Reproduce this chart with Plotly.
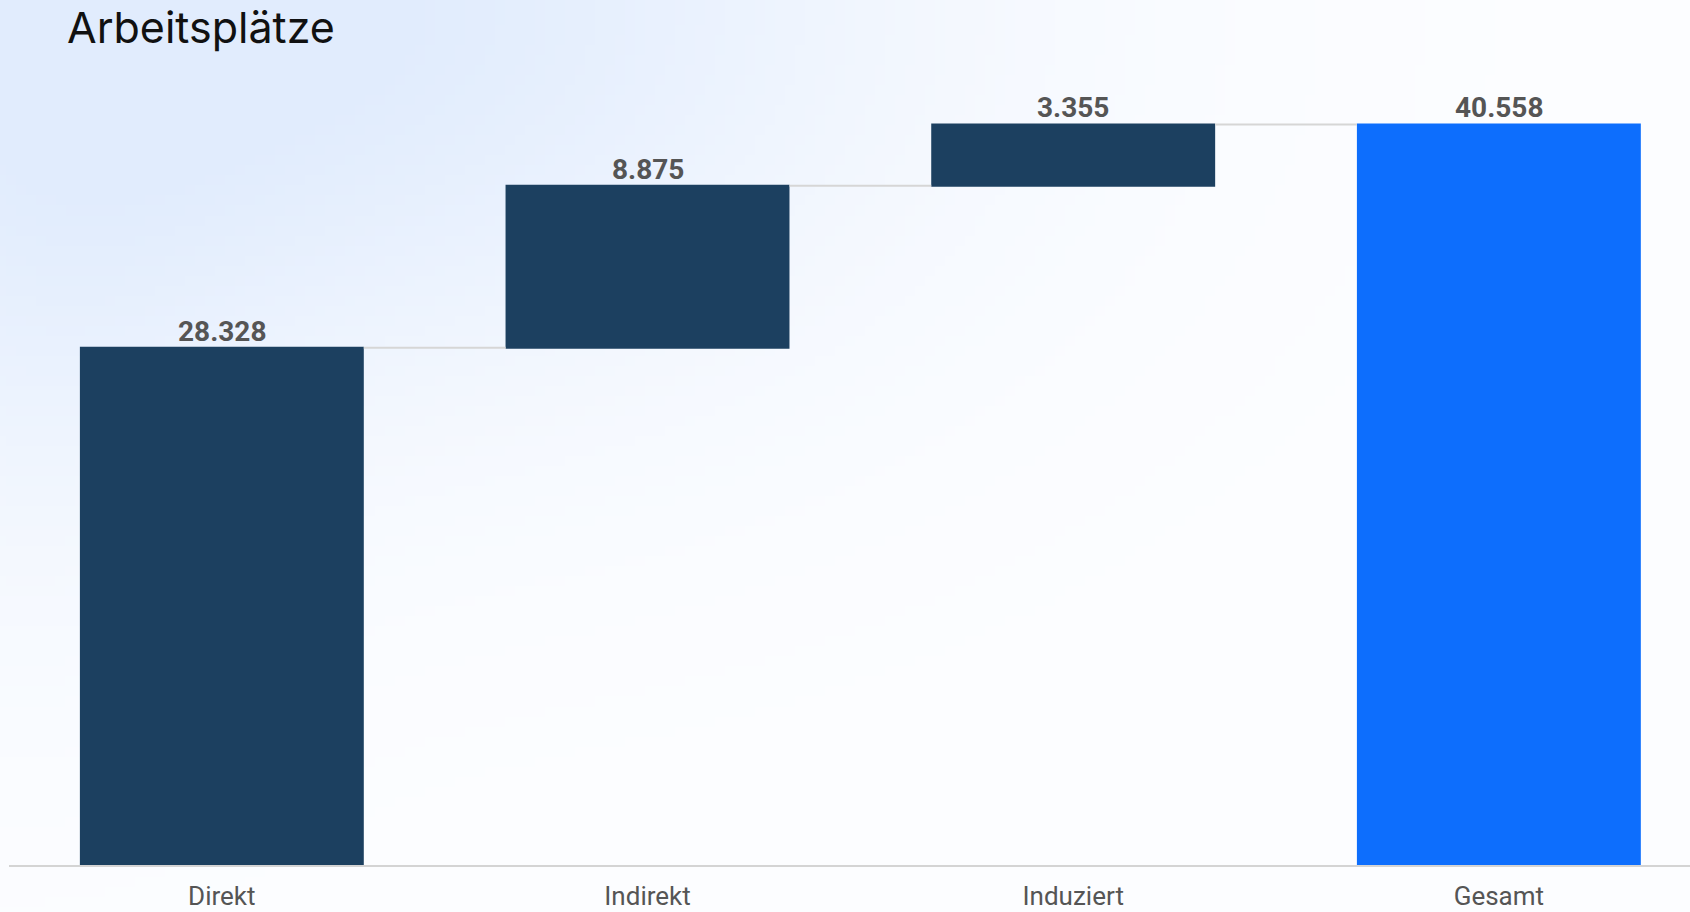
import base64
import math
import struct
import zlib

import plotly.graph_objects as go

# ---- data ----
categories = ["Direkt", "Indirekt", "Induziert", "Gesamt"]
values = [28328, 8875, 3355, 40558]
measures = ["relative", "relative", "relative", "total"]
title_text = "Arbeitsplätze"

labels = [f"{v:,}".replace(",", ".") for v in values]

# top of each waterfall bar (for the value labels)
tops = []
running = 0
for v, m in zip(values, measures):
    if m == "total":
        tops.append(v)
    else:
        running += v
        tops.append(running)

# ---- background gradient (decorative) ----
W, H = 1690, 912


def make_png(w, h, fn):
    raw = bytearray()
    for j in range(h):
        raw.append(0)
        for i in range(w):
            r, g, b = fn(i, j)
            raw.extend((r, g, b))

    def chunk(tag, data):
        c = struct.pack(">I", len(data)) + tag + data
        return c + struct.pack(">I", zlib.crc32(tag + data) & 0xFFFFFFFF)

    png = b"\x89PNG\r\n\x1a\n"
    png += chunk(b"IHDR", struct.pack(">IIBBBBB", w, h, 8, 2, 0, 0, 0))
    png += chunk(b"IDAT", zlib.compress(bytes(raw), 9))
    png += chunk(b"IEND", b"")
    return "data:image/png;base64," + base64.b64encode(png).decode()


EXT = 30  # extra pixels of background beyond each edge
gw, gh = 175, 97
base = (252, 253, 255)
tint = (225, 236, 253)


def grad(i, j):
    px = i / gw * (W + 2 * EXT) - EXT
    py = j / gh * (H + 2 * EXT) - EXT
    dx = (px - 300) / 750
    dy = py / 480
    w = math.exp(-(dx * dx + dy * dy) * 1.6)
    wl = 0.35 * math.exp(-((px / 260) ** 2)) * math.exp(-((py - 250) / 400) ** 2)
    w = min(1.0, w + wl)
    return tuple(int(round(base[k] + (tint[k] - base[k]) * w)) for k in range(3))


bg = make_png(gw, gh, grad)

# ---- figure ----
fig = go.Figure(
    go.Waterfall(
        x=categories,
        y=values,
        measure=measures,
        increasing=dict(marker=dict(color="#1c4060")),
        decreasing=dict(marker=dict(color="#1c4060")),
        totals=dict(marker=dict(color="#0d6efd")),
        connector=dict(line=dict(color="#d6d6d6", width=2), mode="between"),
        hoverinfo="x+y",
    )
)

for cat, top, lab in zip(categories, tops, labels):
    fig.add_annotation(
        x=cat,
        y=top,
        text=lab,
        showarrow=False,
        xanchor="center",
        yanchor="bottom",
        yshift=-2,
        font=dict(family="Roboto", size=28, color="#555555", weight="bold"),
    )

plot_left, plot_top, plot_bottom = 9, 100, 47
plot_w = W - plot_left
plot_h = H - plot_top - plot_bottom

fig.update_layout(
    width=W,
    height=H,
    margin=dict(l=plot_left, r=0, t=plot_top, b=plot_bottom, pad=0),
    paper_bgcolor="#f4f7fd",
    plot_bgcolor="rgba(0,0,0,0)",
    showlegend=False,
    waterfallgap=0.333,
    title=dict(
        text=title_text,
        x=67 / W,
        xanchor="left",
        xref="container",
        y=1 - 13 / H,
        yanchor="top",
        yref="container",
        font=dict(family="Inter", size=43, color="#111111"),
        automargin=False,
    ),
    images=[
        dict(
            source=bg,
            xref="paper",
            yref="paper",
            x=-(plot_left + EXT) / plot_w,
            y=1 + (plot_top + EXT) / plot_h,
            sizex=(W + 2 * EXT) / plot_w,
            sizey=(H + 2 * EXT) / plot_h,
            xanchor="left",
            yanchor="top",
            sizing="stretch",
            layer="below",
        )
    ],
    xaxis=dict(
        type="category",
        range=[-0.5, 3.449],
        automargin=False,
        showgrid=False,
        showline=True,
        linecolor="#d4d4d4",
        linewidth=2,
        ticks="outside",
        ticklen=7,
        tickcolor="rgba(0,0,0,0)",
        tickfont=dict(family="Roboto", size=26, color="#555555"),
        fixedrange=True,
    ),
    yaxis=dict(
        range=[0, 41895],
        visible=False,
        automargin=False,
        showgrid=False,
        zeroline=False,
        fixedrange=True,
    ),
)

fig.write_html(
    "out.html",
    config={"displayModeBar": False},
    post_script="document.body.style.margin='0';document.body.style.overflow='hidden';",
)
